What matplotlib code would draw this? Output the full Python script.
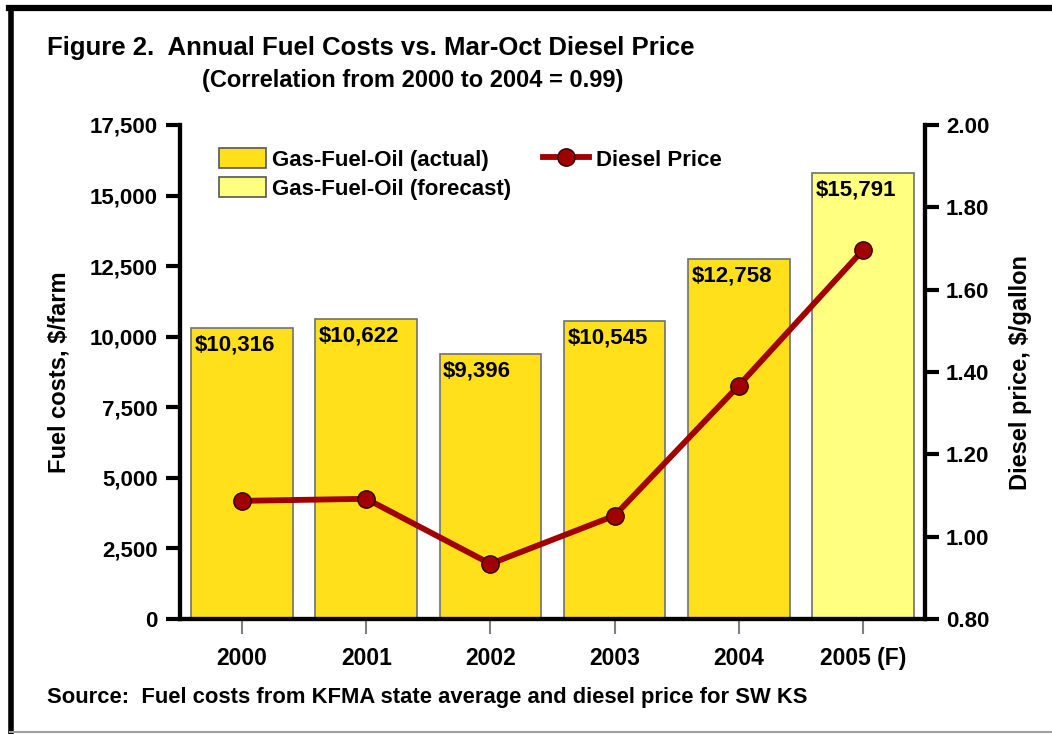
import matplotlib
matplotlib.use("Agg")
import matplotlib.pyplot as plt
from matplotlib.lines import Line2D
from matplotlib.patches import Patch

plt.rcParams['font.family'] = ['Liberation Sans', 'DejaVu Sans']
plt.rcParams['font.weight'] = 'bold'

years = ["2000", "2001", "2002", "2003", "2004", "2005 (F)"]
fuel_costs = [10316, 10622, 9396, 10545, 12758, 15791]
is_forecast = [False, False, False, False, False, True]
diesel_price = [1.087, 1.092, 0.934, 1.051, 1.367, 1.696]
left_ticks = [0, 2500, 5000, 7500, 10000, 12500, 15000, 17500]
right_ticks = [0.80, 1.00, 1.20, 1.40, 1.60, 1.80, 2.00]

actual_color = "#FFE01A"
forecast_color = "#FFFF80"
line_color = "#A00000"

W, H = 1052, 734
fig = plt.figure(figsize=(W / 100, H / 100), dpi=100)
ax = fig.add_axes([180 / W, 1 - 619 / H, 745 / W, 494 / H])
ax2 = ax.twinx()

x = list(range(len(years)))
bar_w = 0.82
colors = [forecast_color if f else actual_color for f in is_forecast]
ax.bar(x, fuel_costs, width=bar_w, color=colors, edgecolor="#707070", linewidth=1.2, zorder=2)
for xi, v in zip(x, fuel_costs):
    ax.text(xi - bar_w / 2 + 0.03, v - 230, "${:,}".format(v), ha="left", va="top",
            fontsize=16, fontweight="bold", zorder=3)

ax.set_xlim(-0.5, len(years) - 0.5)
ax.set_ylim(0, 17500)
ax.set_yticks(left_ticks)
ax.set_yticklabels(["{:,}".format(t) for t in left_ticks])
ax.set_xticks(x)
ax.set_xticklabels(years)
ax.tick_params(axis="y", direction="out", length=10, width=3, labelsize=16, pad=6)
ax.tick_params(axis="x", direction="out", length=11, width=1.5, color="#808080", labelsize=16.5, pad=9)
for lab in ax.get_xticklabels() + ax.get_yticklabels():
    lab.set_fontweight("bold")

ax2.plot(x, diesel_price, color=line_color, linewidth=4.2, marker="o", markersize=12.5,
         markerfacecolor=line_color, markeredgecolor="#300000", markeredgewidth=1.0, zorder=5)
ax2.set_ylim(0.80, 2.00)
ax2.set_yticks(right_ticks)
ax2.set_yticklabels(["{:.2f}".format(t) for t in right_ticks])
ax2.tick_params(axis="y", direction="out", length=10, width=3, labelsize=16, pad=5)
for lab in ax2.get_yticklabels():
    lab.set_fontweight("bold")

for a in (ax, ax2):
    a.spines["top"].set_visible(False)
    for s in ("left", "right", "bottom"):
        a.spines[s].set_linewidth(3)
        a.spines[s].set_color("black")
ax2.patch.set_visible(False)

ax.set_ylabel("Fuel costs, $/farm", fontsize=17, fontweight="bold", labelpad=14)
ax2.set_ylabel("Diesel price, $/gallon", fontsize=17, fontweight="bold", labelpad=14)

handles = [
    Patch(facecolor=actual_color, edgecolor="#555555", linewidth=1.2),
    Patch(facecolor=forecast_color, edgecolor="#555555", linewidth=1.2),
    Line2D([0], [0], color=line_color, linewidth=4.2, marker="o", markersize=12.5,
           markerfacecolor=line_color, markeredgecolor="#300000"),
]
labels = ["Gas-Fuel-Oil (actual)", "Gas-Fuel-Oil (forecast)", "Diesel Price"]
ax2.legend(handles, labels, ncol=2, loc="upper left", bbox_to_anchor=(208 / W, 1 - 137 / H),
           bbox_transform=fig.transFigure, frameon=False, borderpad=0,
           prop={"size": 16, "weight": "bold"},
           handlelength=2.1, handleheight=1.0, columnspacing=1.4, labelspacing=0.3,
           handletextpad=0.3)

fig.text(47 / W, 1 - 48 / H, "Figure 2.  Annual Fuel Costs vs. Mar-Oct Diesel Price",
         fontsize=18.5, fontweight="bold", ha="left", va="center")
fig.text(413 / W, 1 - 80 / H, "(Correlation from 2000 to 2004 = 0.99)",
         fontsize=17, fontweight="bold", ha="center", va="center")
fig.text(47 / W, 1 - 697 / H, "Source:  Fuel costs from KFMA state average and diesel price for SW KS",
         fontsize=15.8, fontweight="bold", ha="left", va="center")

# frame lines
fig.add_artist(Line2D([10.5 / W, 10.5 / W], [0, 1 - 8 / H], color="black", linewidth=4, transform=fig.transFigure))
fig.add_artist(Line2D([8.5 / W, 1], [1 - 8 / H, 1 - 8 / H], color="black", linewidth=4.5, transform=fig.transFigure))
fig.add_artist(Line2D([10 / W, 1], [1 - 732 / H, 1 - 732 / H], color="#A0A0A0", linewidth=1.5, transform=fig.transFigure))

fig.savefig("out.png", dpi=100)
